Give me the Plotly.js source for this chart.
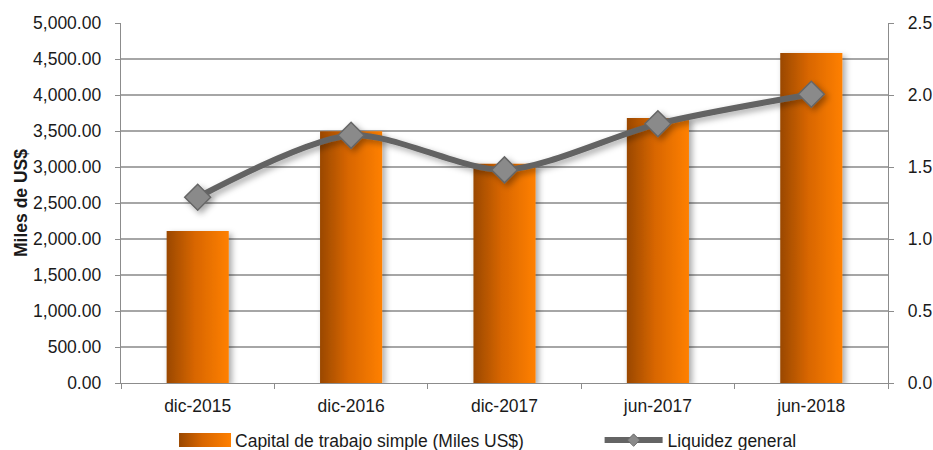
<!DOCTYPE html>
<html>
<head>
<meta charset="utf-8">
<script src="https://cdn.plot.ly/plotly-3.0.1.min.js"></script>
<style>
html,body{margin:0;padding:0;background:#fff;}
#chart{width:933px;height:450px;}
</style>
</head>
<body>
<div id="chart"></div>
<script>
const categories = ["dic-2015", "dic-2016", "dic-2017", "jun-2017", "jun-2018"];
const capitalTrabajo = [2110, 3495, 3045, 3680, 4585];
const liquidez = [1.29, 1.72, 1.48, 1.80, 2.005];
const leftTicks = [0, 500, 1000, 1500, 2000, 2500, 3000, 3500, 4000, 4500, 5000];
const rightTicks = [0, 0.5, 1.0, 1.5, 2.0, 2.5];

const FONT = "Liberation Sans, Arial, sans-serif";
const FS = 17.5;

const traces = [
  {
    type: "bar",
    name: "Capital de trabajo simple (Miles US$)",
    x: categories,
    y: capitalTrabajo,
    width: 0.405,
    marker: { color: "#E06C00", line: { width: 0 } },
    legend: "legend"
  },
  {
    type: "scatter",
    mode: "lines+markers",
    name: "Liquidez general",
    x: categories,
    y: liquidez,
    yaxis: "y2",
    line: { color: "#646464", width: 6, shape: "spline", smoothing: 0.8 },
    marker: { symbol: "diamond", size: 20, color: "#8A8A8A", line: { color: "#666666", width: 1.5 } },
    legend: "legend2"
  }
];

const legendBase = {
  orientation: "h",
  xanchor: "left",
  yanchor: "top",
  y: -0.109,
  font: { family: FONT, size: FS, color: "#1a1a1a" },
  bgcolor: "rgba(0,0,0,0)",
  itemwidth: 58
};

const layout = {
  width: 933,
  height: 450,
  margin: { l: 121, r: 45, t: 23, b: 67, autoexpand: false },
  paper_bgcolor: "#ffffff",
  plot_bgcolor: "#ffffff",
  font: { family: FONT, size: FS, color: "#1a1a1a" },
  showlegend: true,
  xaxis: {
    type: "category",
    tickson: "boundaries",
    ticks: "outside",
    ticklen: 5,
    tickcolor: "#8c8c8c",
    showline: true,
    linecolor: "#8c8c8c",
    linewidth: 1.3,
    showgrid: false,
    tickfont: { family: FONT, size: FS, color: "#1a1a1a" },
    ticklabelstandoff: 7,
    automargin: false
  },
  yaxis: {
    range: [0, 5000],
    tickvals: leftTicks,
    tickformat: ",.2f",
    ticks: "outside",
    ticklen: 5,
    tickcolor: "#8c8c8c",
    showline: true,
    linecolor: "#8c8c8c",
    linewidth: 1.3,
    showgrid: true,
    gridcolor: "#a6a6a6",
    gridwidth: 1.3,
    zeroline: false,
    ticklabelstandoff: 10,
    tickfont: { family: FONT, size: FS, color: "#1a1a1a" },
    title: { text: "<b>Miles de US$</b>", font: { family: FONT, size: FS, color: "#1a1a1a" }, standoff: 1 },
    automargin: false
  },
  yaxis2: {
    overlaying: "y",
    side: "right",
    range: [0, 2.5],
    tickvals: rightTicks,
    tickformat: ".1f",
    ticks: "outside",
    ticklen: 5,
    tickcolor: "#8c8c8c",
    showline: true,
    linecolor: "#8c8c8c",
    linewidth: 1.3,
    showgrid: false,
    zeroline: false,
    ticklabelstandoff: 10,
    tickfont: { family: FONT, size: FS, color: "#1a1a1a" },
    automargin: false
  },
  legend: Object.assign({}, legendBase, { x: 0.06 }),
  legend2: Object.assign({}, legendBase, { x: 0.624 })
};

function decorate(gd) {
  const svg = gd.querySelector("svg.main-svg");
  if (!svg) return;
  const ns = "http://www.w3.org/2000/svg";
  let defs = svg.querySelector("defs");
  if (!defs) { defs = document.createElementNS(ns, "defs"); svg.insertBefore(defs, svg.firstChild); }
  if (!svg.querySelector("#barGrad")) {
    const lg = document.createElementNS(ns, "linearGradient");
    lg.setAttribute("id", "barGrad");
    lg.setAttribute("x1", "0"); lg.setAttribute("y1", "0");
    lg.setAttribute("x2", "1"); lg.setAttribute("y2", "0");
    [["0", "#9A4800"], ["0.45", "#D86600"], ["1", "#FF8000"]].forEach(([o, c]) => {
      const s = document.createElementNS(ns, "stop");
      s.setAttribute("offset", o); s.setAttribute("stop-color", c);
      lg.appendChild(s);
    });
    defs.appendChild(lg);
    const f = document.createElementNS(ns, "filter");
    f.setAttribute("id", "softShadow");
    f.setAttribute("x", "-30%"); f.setAttribute("y", "-30%");
    f.setAttribute("width", "160%"); f.setAttribute("height", "160%");
    const ds = document.createElementNS(ns, "feDropShadow");
    ds.setAttribute("dx", "3"); ds.setAttribute("dy", "3");
    ds.setAttribute("stdDeviation", "3");
    ds.setAttribute("flood-color", "#000"); ds.setAttribute("flood-opacity", "0.35");
    f.appendChild(ds);
    defs.appendChild(f);
  }
  gd.querySelectorAll(".barlayer .bars path").forEach(p => {
    p.style.fill = "url(#barGrad)";
    p.style.filter = "url(#softShadow)";
  });
  gd.querySelectorAll("svg .legendpoints path").forEach(p => {
    const cls = p.getAttribute("class") || "";
    const d = (p.getAttribute("d") || "").replace(/\s/g, "");
    const isBar = cls.indexOf("bar") >= 0 || d.indexOf("M6,6H-6V-6H6Z") === 0;
    if (isBar) {
      p.style.fill = "url(#barGrad)";
      p.setAttribute("d", "M-22,-7H30V7H-22Z");
    } else if (cls.indexOf("scatterpts") >= 0) {
      const t = p.getAttribute("transform") || "";
      if (t.indexOf("scale") < 0) p.setAttribute("transform", t + " scale(0.6)");
    }
  });
  gd.querySelectorAll(".scatterlayer .trace").forEach(t => {
    t.style.filter = "url(#softShadow)";
  });
}

Plotly.newPlot("chart", traces, layout, { displayModeBar: false, staticPlot: true }).then(gd => {
  decorate(gd);
});
</script>
</body>
</html>
